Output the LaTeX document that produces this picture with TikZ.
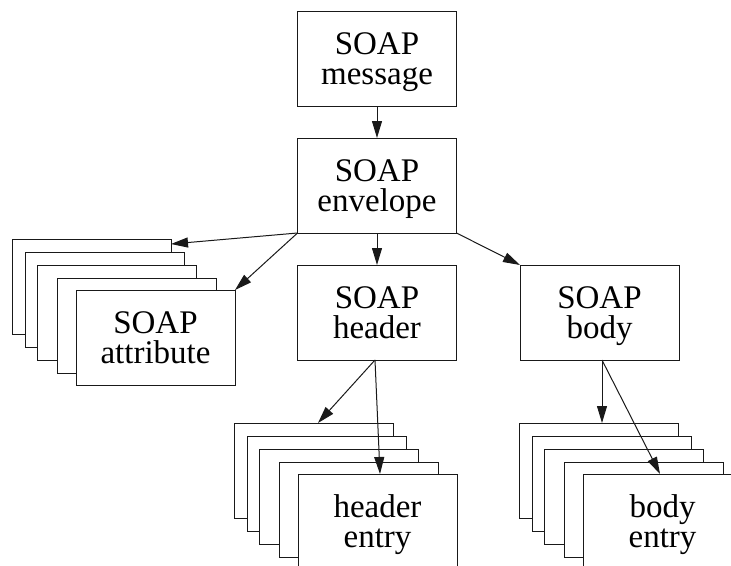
\documentclass[tikz,border=0pt]{standalone}
\usepackage{fontspec}
\setmainfont{Liberation Serif}
\newfontfamily\tmsfont{Liberation Serif}
\usetikzlibrary{arrows.meta}
\tikzset{
  box/.style={draw=black!90, line width=1pt, fill=white, minimum width=159pt, minimum height=95pt,
    inner sep=0pt, outer sep=0pt, align=center, text depth=0pt,
    font=\tmsfont\fontsize{33}{30}\selectfont},
  arr/.style={draw=black!90, line width=1pt, -{Triangle[length=17pt,width=10pt]}}
}
\begin{document}
\begin{tikzpicture}[x=1pt,y=-1pt]
\useasboundingbox (0,0) rectangle (731,565);
\clip (0,0) rectangle (731,565);
% top boxes
\node[box] (msg) at (377,58.5) {SOAP\\message};
\node[box] (env) at (377,185.5) {SOAP\\envelope};
\node[box] (hdr) at (377,312.5) {SOAP\\header};
\node[box] (bdy) at (599.5,312.5) {SOAP\\body};
% attribute stack
\node[box] (ab1) at (91.5,286.5) {};
\node[box] (ab2) at (104.5,299.5) {};
\node[box] (ab3) at (116.5,312.5) {};
\node[box] (ab4) at (136.5,325.5) {};
\node[box] (attr) at (155.5,337.5) {SOAP\\attribute};
% header entry stack
\node[box] (hb1) at (313.5,470.5) {};
\node[box] (hb2) at (326.5,483.5) {};
\node[box] (hb3) at (338.5,496.5) {};
\node[box] (hb4) at (358.5,509.5) {};
\node[box] (hent) at (377.5,521.5) {header\\entry};
% body entry stack
\node[box] (bb1) at (598.5,470.5) {};
\node[box] (bb2) at (611.5,483.5) {};
\node[box] (bb3) at (623.5,496.5) {};
\node[box] (bb4) at (643.5,509.5) {};
\node[box] (bent) at (662.5,521.5) {body\\entry};
% connectors
\draw[arr] (msg.south) -- (env.north);
\draw[arr] (env.south) -- (hdr.north);
\draw[arr] (env.south west) -- ([yshift=-5pt]ab1.north east);
\draw[arr] (env.south west) -- (attr.north east);
\draw[arr] (env.south east) -- (bdy.north west);
\draw[arr] ([xshift=-2pt]hdr.south) -- ([xshift=4.5pt]hb1.north);
\draw[arr] ([xshift=-2pt]hdr.south) -- ([xshift=2.5pt]hent.north);
\draw[arr] ([xshift=2.5pt]bdy.south) -- ([xshift=3.5pt]bb1.north);
\draw[arr] ([xshift=2.5pt]bdy.south) -- ([xshift=-2.5pt]bent.north);
\end{tikzpicture}
\end{document}
